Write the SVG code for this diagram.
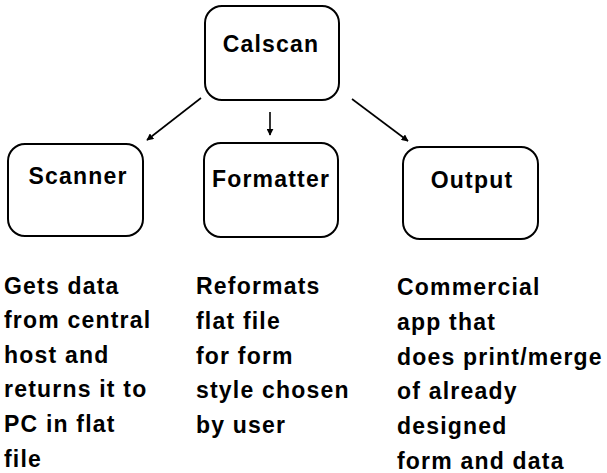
<svg xmlns="http://www.w3.org/2000/svg" width="607" height="473" viewBox="0 0 607 473">
  <style>
    .box { fill: #ffffff; stroke: #000000; stroke-width: 2; }
    .title { font-family: "Liberation Sans", Arial, sans-serif; font-weight: bold; font-size: 23px; letter-spacing: 1.2px; fill: #000000; text-anchor: middle; }
    .note { font-family: "Liberation Sans", Arial, sans-serif; font-weight: bold; font-size: 23px; letter-spacing: 1.2px; fill: #000000; }
    .conn { stroke: #000000; stroke-width: 1.6; fill: none; marker-end: url(#arrow); }
  </style>
  <defs>
    <marker id="arrow" viewBox="0 0 10 10" refX="9" refY="5" markerWidth="7" markerHeight="7" markerUnits="userSpaceOnUse" orient="auto">
      <path d="M0,0 L10,5 L0,10 z" fill="#000000"/>
    </marker>
  </defs>
  <rect width="607" height="473" fill="#ffffff"/>

  <g id="connectors">
    <line class="conn" x1="201" y1="98" x2="147" y2="140"/>
    <line class="conn" x1="270" y1="112" x2="270" y2="135"/>
    <line class="conn" x1="352" y1="99" x2="408" y2="141"/>
  </g>

  <g id="calscan">
    <rect class="box" x="205" y="6" width="134" height="94" rx="17" ry="17"/>
    <text class="title" x="271" y="52">Calscan</text>
  </g>

  <g id="scanner">
    <rect class="box" x="8" y="144" width="135" height="92" rx="17" ry="17"/>
    <text class="title" x="78" y="184">Scanner</text>
  </g>

  <g id="formatter">
    <rect class="box" x="204" y="143" width="134" height="94" rx="17" ry="17"/>
    <text class="title" x="271" y="187">Formatter</text>
  </g>

  <g id="output">
    <rect class="box" x="403" y="147" width="135" height="92" rx="17" ry="17"/>
    <text class="title" x="472" y="188">Output</text>
  </g>

  <g id="scanner-note">
    <text class="note" x="4" y="294">Gets data</text>
    <text class="note" x="4" y="328">from central</text>
    <text class="note" x="4" y="363">host and</text>
    <text class="note" x="4" y="397">returns it to</text>
    <text class="note" x="4" y="432">PC in flat</text>
    <text class="note" x="4" y="467">file</text>
  </g>

  <g id="formatter-note">
    <text class="note" x="196" y="294">Reformats</text>
    <text class="note" x="196" y="329">flat file</text>
    <text class="note" x="196" y="364">for form</text>
    <text class="note" x="196" y="398">style chosen</text>
    <text class="note" x="196" y="433">by user</text>
  </g>

  <g id="output-note">
    <text class="note" x="397" y="295">Commercial</text>
    <text class="note" x="397" y="330">app that</text>
    <text class="note" x="397" y="365">does print/merge</text>
    <text class="note" x="397" y="399">of already</text>
    <text class="note" x="397" y="434">designed</text>
    <text class="note" x="397" y="469">form and data</text>
  </g>
</svg>
